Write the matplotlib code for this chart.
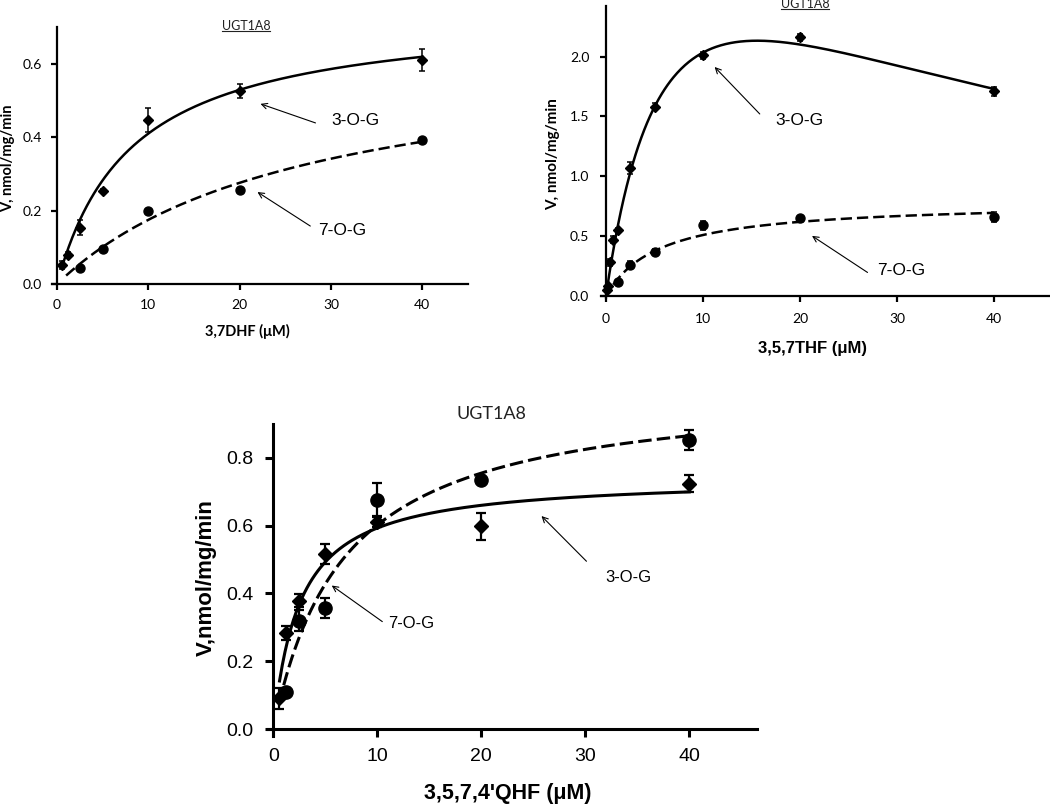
import numpy as np
import matplotlib
matplotlib.use("Agg")
import matplotlib.pyplot as plt
from matplotlib.lines import Line2D

plt.rcParams['font.family'] = ['Lato', 'DejaVu Sans']
ARIAL = ['Liberation Sans', 'DejaVu Sans']

# ---------------- data ----------------
# Panel A: 3,7DHF
a_x_3og = [0.5, 1.25, 2.5, 5, 10, 20, 40]
a_y_3og = [0.052, 0.079, 0.154, 0.254, 0.447, 0.527, 0.611]
a_e_3og = [0.010, 0.008, 0.020, 0.005, 0.033, 0.020, 0.030]
a_x_7og = [2.5, 5, 10, 20, 40]
a_y_7og = [0.043, 0.095, 0.200, 0.256, 0.393]
a_e_7og = [0.004, 0.005, 0.005, 0.006, 0.005]
a_fit_3og = (0.747, 8.2)      # Vmax, Km
a_fit_7og = (0.653, 27.3)

# Panel B: 3,5,7THF
b_x_3og = [0.1, 0.2, 0.4, 0.75, 1.25, 2.5, 5, 10, 20, 40]
b_y_3og = [0.05, 0.08, 0.28, 0.47, 0.55, 1.07, 1.58, 2.01, 2.16, 1.71]
b_e_3og = [0.01, 0.02, 0.03, 0.03, 0.02, 0.05, 0.03, 0.03, 0.03, 0.04]
b_x_7og = [1.25, 2.5, 5, 10, 20, 40]
b_y_7og = [0.12, 0.26, 0.37, 0.59, 0.65, 0.66]
b_e_7og = [0.01, 0.03, 0.02, 0.04, 0.01, 0.04]
b_fit_3og = (4.156, 7.39, 32.85)  # Vmax, Km, Ki (substrate inhibition)
b_fit_7og = (0.79, 5.5)

# Panel C: 3,5,7,4'QHF
c_x_3og = [0.5, 1.25, 2.5, 5, 10, 20, 40]
c_y_3og = [0.09, 0.283, 0.379, 0.517, 0.612, 0.598, 0.724]
c_e_3og = [0.03, 0.02, 0.02, 0.03, 0.015, 0.04, 0.025]
c_x_7og = [1.25, 2.5, 5, 10, 20, 40]
c_y_7og = [0.11, 0.32, 0.357, 0.676, 0.735, 0.853]
c_e_7og = [0.01, 0.03, 0.03, 0.05, 0.01, 0.03]
c_fit_3og = (0.744, 2.55)
c_fit_7og = (1.013, 6.84)

x_ticks = [0, 10, 20, 30, 40]
a_yticks = [0.0, 0.2, 0.4, 0.6]
b_yticks = [0.0, 0.5, 1.0, 1.5, 2.0]
c_yticks = [0.0, 0.2, 0.4, 0.6, 0.8]


def mm(x, vmax, km):
    return vmax * x / (km + x)


def si(x, vmax, km, ki):
    return vmax * x / (km + x + x * x / ki)


# ---------------- layout ----------------
W, H = 1050, 809
fig = plt.figure(figsize=(W / 100, H / 100), dpi=100)


def make_ax(x0, y0, sx, sy, xlim, ylim):
    left = x0 + xlim[0] * sx
    right = x0 + xlim[1] * sx
    bot = y0 - ylim[0] * sy
    top = y0 - ylim[1] * sy
    ax = fig.add_axes([left / W, 1 - bot / H, (right - left) / W, (bot - top) / H])
    ax.set_xlim(*xlim)
    ax.set_ylim(*ylim)
    ax.patch.set_alpha(0)
    for s in ('top', 'right'):
        ax.spines[s].set_visible(False)
    ax.spines['left'].set_position(('data', 0))
    ax.spines['bottom'].set_position(('data', 0))
    return ax


def style(ax, lw, ticklen, fs, family, pad):
    ax.spines['left'].set_linewidth(lw)
    ax.spines['bottom'].set_linewidth(lw)
    ax.tick_params(direction='out', length=ticklen, width=lw, pad=pad,
                   labelsize=fs)
    for lab in ax.get_xticklabels() + ax.get_yticklabels():
        lab.set_family(family)


def underline_title(ax, x, y, s, fs):
    t = ax.text(x, y, s, fontsize=fs, ha='center', va='center', color='#222222')
    return t


titles = []

# ---------- Panel A ----------
axA = make_ax(57, 284, 9.13, 366.5, (-0.5, 45), (0, 0.70))
style(axA, 1.6, 4, 10, ['Lato', 'DejaVu Sans'], 7)
axA.set_xticks(x_ticks)
axA.set_yticks(a_yticks)
axA.set_yticklabels([f"{v:.1f}" for v in a_yticks])
xa = np.linspace(0.5, 40, 300)
axA.plot(xa, mm(xa, *a_fit_3og), color='black', lw=1.8)
xa2 = np.linspace(1.0, 40, 300)
axA.plot(xa2, mm(xa2, *a_fit_7og), color='black', lw=1.8, ls=(0, (4.5, 2)))
axA.errorbar(a_x_3og, a_y_3og, yerr=a_e_3og, fmt='D', color='black', ms=5.5,
             capsize=2.5, elinewidth=1.1, capthick=1.1)
axA.errorbar(a_x_7og, a_y_7og, yerr=a_e_7og, fmt='o', color='black', ms=6.5,
             capsize=2.5, elinewidth=1.1, capthick=1.1)
titles.append((axA, axA.text(20.7, 0.704, 'UGT1A8', fontsize=9, ha='center',
                             va='center', color='#222222')))
axA.annotate('', xy=(22.0, 0.494), xytext=(28.6, 0.437),
             arrowprops=dict(arrowstyle='->', lw=0.8, color='black'))
axA.text(30.0, 0.447, '3-O-G', fontsize=12.5, family=ARIAL, va='center', ha='left')
axA.annotate('', xy=(21.7, 0.255), xytext=(28.0, 0.154),
             arrowprops=dict(arrowstyle='->', lw=0.8, color='black'))
axA.text(28.6, 0.147, '7-O-G', fontsize=12.5, family=ARIAL, va='center', ha='left')
fig.text(8 / W, 1 - 158 / H, 'V, nmol/mg/min', rotation=90, ha='center',
         va='center', fontsize=10.5, fontweight='bold')
fig.text(247 / W, 1 - 331 / H, '3,7DHF (\u03bcM)', ha='center', va='center',
         fontsize=10.5, fontweight='bold')

# ---------- Panel B ----------
axB = make_ax(606, 296, 9.7, 119.7, (-0.5, 46), (-0.02, 2.42))
style(axB, 1.6, 4, 10, ['Lato', 'DejaVu Sans'], 8)
axB.set_xticks(x_ticks)
axB.set_yticks(b_yticks)
axB.set_yticklabels([f"{v:.1f}" for v in b_yticks])
xb = np.linspace(0.03, 40, 400)
axB.plot(xb, si(xb, *b_fit_3og), color='black', lw=1.8)
xb2 = np.linspace(0.75, 40, 300)
axB.plot(xb2, mm(xb2, *b_fit_7og), color='black', lw=1.8, ls=(0, (4.5, 2)))
axB.errorbar(b_x_3og, b_y_3og, yerr=b_e_3og, fmt='D', color='black', ms=5.5,
             capsize=2.5, elinewidth=1.1, capthick=1.1)
axB.errorbar(b_x_7og, b_y_7og, yerr=b_e_7og, fmt='o', color='black', ms=6.5,
             capsize=2.5, elinewidth=1.1, capthick=1.1)
titles.append((axB, axB.text(20.5, 2.44, 'UGT1A8', fontsize=9, ha='center',
                             va='center', color='#222222')))
axB.annotate('', xy=(11.0, 1.93), xytext=(16.05, 1.504),
             arrowprops=dict(arrowstyle='->', lw=0.8, color='black'))
axB.text(17.5, 1.465, '3-O-G', fontsize=12.5, family=ARIAL, va='center', ha='left')
axB.annotate('', xy=(21.0, 0.515), xytext=(27.2, 0.184),
             arrowprops=dict(arrowstyle='->', lw=0.8, color='black'))
axB.text(28.0, 0.217, '7-O-G', fontsize=12.5, family=ARIAL, va='center', ha='left')
fig.text(553 / W, 1 - 154 / H, 'V, nmol/mg/min', rotation=90, ha='center',
         va='center', fontsize=11, fontweight='bold')
fig.text(813 / W, 1 - 348 / H, '3,5,7THF (\u03bcM)', ha='center', va='center',
         fontsize=12, fontweight='bold', family=ARIAL)

# ---------- Panel C ----------
axC = make_ax(273.3, 729, 10.4, 339, (-0.5, 46.5), (-0.02, 0.90))
style(axC, 2.2, 6, 14, ARIAL, 8)
axC.set_xticks(x_ticks)
axC.set_yticks(c_yticks)
axC.set_yticklabels([f"{v:.1f}" for v in c_yticks])
xc = np.linspace(0.6, 40, 300)
axC.plot(xc, mm(xc, *c_fit_3og), color='black', lw=2.2)
xc2 = np.linspace(1.0, 40, 300)
axC.plot(xc2, mm(xc2, *c_fit_7og), color='black', lw=2.2, ls=(0, (4.4, 1.7)))
axC.errorbar(c_x_3og, c_y_3og, yerr=c_e_3og, fmt='D', color='black', ms=7.5,
             capsize=3.5, elinewidth=1.6, capthick=1.6)
axC.errorbar(c_x_7og, c_y_7og, yerr=c_e_7og, fmt='o', color='black', ms=9.5,
             capsize=3.5, elinewidth=1.6, capthick=1.6)
axC.text(21.0, 0.93, 'UGT1A8', fontsize=13, ha='center', va='center',
         color='#222222')
axC.annotate('', xy=(25.6, 0.634), xytext=(30.3, 0.489),
             arrowprops=dict(arrowstyle='->', lw=0.8, color='black'))
axC.text(31.9, 0.447, '3-O-G', fontsize=12, family=ARIAL, va='center', ha='left')
axC.annotate('', xy=(5.4, 0.428), xytext=(10.7, 0.312),
             arrowprops=dict(arrowstyle='->', lw=0.8, color='black'))
axC.text(11.0, 0.312, '7-O-G', fontsize=12, family=ARIAL, va='center', ha='left')
fig.text(206 / W, 1 - 578 / H, 'V,nmol/mg/min', rotation=90, ha='center',
         va='center', fontsize=16, fontweight='bold', family=ARIAL)
fig.text(508 / W, 1 - 793 / H, "3,5,7,4'QHF (\u03bcM)", ha='center', va='center',
         fontsize=15.5, fontweight='bold', family=ARIAL)

# underline small titles
fig.canvas.draw()
inv = fig.transFigure.inverted()
for ax, t in titles:
    bb = t.get_window_extent()
    (x0, y0) = inv.transform((bb.x0, bb.y0 + 1))
    (x1, _) = inv.transform((bb.x1, bb.y0 + 1))
    fig.add_artist(Line2D([x0, x1], [y0, y0], transform=fig.transFigure,
                          color='#222222', lw=0.8))

fig.savefig('out.png', dpi=100)
